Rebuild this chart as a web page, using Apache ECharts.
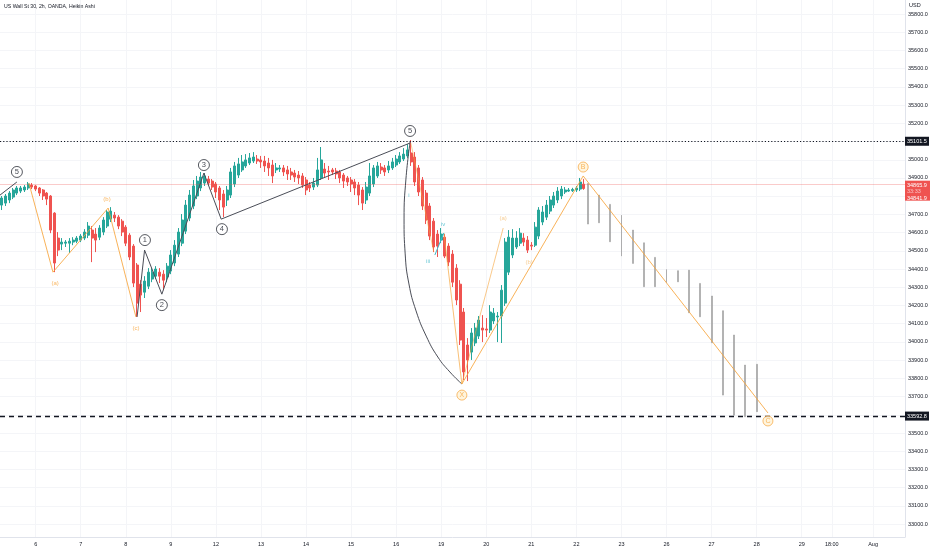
<!DOCTYPE html>
<html><head><meta charset="utf-8">
<script src="https://cdn.jsdelivr.net/npm/echarts@6/dist/echarts.min.js"></script>
<style>html,body{margin:0;padding:0;background:#fff}#c{width:932px;height:550px}</style>
</head><body><div id="c"></div><script>
// ---- Heikin Ashi candles (2h bars, index 0..155) ----
const candleOpen = [34751,34762,34779,34795,34817,34828,34834,34845,34861,34856,
34845,34834,34817,34801,34707,34570,34537,34542,34542,34548,
34553,34559,34570,34586,34614,34592,34575,34603,34636,34674,
34696,34685,34663,34630,34586,34526,34422,34317,34273,34306,
34345,34361,34383,34372,34356,34389,34433,34482,34542,34608,
34680,34746,34801,34845,34872,34894,34883,34867,34845,34812,
34779,34806,34867,34916,34944,34966,34982,34993,35004,34999,
34993,34982,34971,34944,34949,34955,34944,34933,34927,34916,
34911,34889,34861,34850,34861,34900,34949,34938,34944,34938,
34933,34916,34900,34889,34878,34861,34834,34779,34817,34867,
34911,34960,34955,34944,34955,34971,34988,35004,35021,35037,
35015,34955,34889,34817,34746,34663,34592,34559,34575,34526,
34482,34405,34317,34164,33983,33944,33994,34032,34076,34071,
34065,34115,34137,34142,34213,34383,34477,34521,34542,34570,
34559,34531,34531,34581,34658,34685,34718,34751,34779,34801,
34823,34828,34830,34834,34839,34866];
const candleClose = [34790,34801,34817,34834,34845,34845,34850,34867,34850,34839,
34817,34801,34784,34614,34433,34504,34548,34548,34553,34559,
34570,34581,34603,34636,34570,34559,34625,34669,34713,34718,
34680,34636,34603,34542,34466,34323,34213,34257,34334,34383,
34383,34400,34361,34339,34416,34477,34531,34603,34669,34751,
34806,34856,34883,34905,34911,34872,34850,34823,34779,34740,
34834,34933,34966,34977,34988,34999,35010,35015,34993,34988,
34966,34955,34911,34955,34955,34933,34922,34916,34905,34900,
34861,34834,34845,34872,34944,34999,34927,34933,34933,34922,
34900,34883,34878,34867,34845,34806,34762,34850,34911,34955,
34966,34944,34933,34966,34988,35004,35021,35031,35054,34988,
34878,34823,34746,34669,34581,34521,34526,34592,34471,34438,
34328,34230,34010,33835,33901,34049,34076,34120,34065,34065,
34164,34158,34142,34284,34548,34575,34570,34570,34597,34548,
34504,34526,34630,34724,34713,34751,34779,34801,34828,34839,
34834,34834,34837,34845,34878,34842];
const candleLow = [34724,34746,34762,34784,34806,34817,34823,34834,34839,34828,
34801,34779,34751,34597,34383,34471,34504,34521,34488,34531,
34542,34548,34559,34570,34438,34493,34559,34586,34625,34658,
34658,34619,34581,34526,34449,34301,34137,34164,34241,34290,
34328,34345,34323,34284,34328,34372,34416,34466,34526,34592,
34663,34729,34784,34828,34856,34856,34834,34790,34724,34685,
34746,34790,34850,34900,34933,34955,34971,34982,34977,34955,
34933,34911,34872,34927,34933,34911,34889,34889,34878,34867,
34845,34806,34823,34834,34850,34889,34900,34889,34916,34894,
34872,34845,34856,34823,34806,34751,34724,34757,34801,34850,
34900,34922,34911,34927,34944,34960,34977,34993,35010,34966,
34856,34801,34724,34647,34559,34493,34466,34542,34460,34416,
34301,34202,33983,33791,33785,33901,33977,34016,33999,34027,
34049,34098,33999,33994,34197,34367,34460,34510,34526,34526,
34488,34504,34521,34564,34641,34669,34702,34735,34762,34784,
34812,34823,34823,34823,34828,34835];
const candleHigh = [34801,34812,34828,34845,34856,34856,34861,34878,34872,34861,
34850,34839,34823,34806,34712,34603,34570,34559,34570,34575,
34581,34592,34619,34658,34636,34625,34641,34685,34724,34740,
34713,34696,34674,34641,34597,34537,34433,34339,34361,34405,
34405,34416,34405,34394,34433,34504,34559,34625,34702,34779,
34834,34889,34911,34933,34927,34911,34894,34878,34856,34834,
34856,34955,34988,35010,35026,35031,35037,35042,35026,35021,
35021,35010,34999,34982,34971,34971,34966,34955,34944,34938,
34927,34905,34878,34900,35010,35070,34982,34966,34955,34955,
34944,34927,34911,34905,34894,34878,34850,34878,34982,34971,
34988,34982,34971,34993,35010,35026,35042,35064,35086,35108,
35042,34971,34905,34834,34762,34680,34614,34625,34592,34542,
34504,34427,34339,34186,34021,34076,34104,34142,34147,34131,
34202,34186,34164,34312,34570,34614,34619,34608,34625,34597,
34581,34548,34658,34740,34746,34779,34801,34823,34850,34856,
34850,34845,34846,34856,34900,34894];

// ---- projected bars ----
const projIndex = [156,159,162,165,168,171,174,177,180,183,186,189,192,195,198,201];
const projHigh = [34870,34806,34755,34696,34614,34544,34464,34398,34391,34394,34321,34252,34171,34038,33873,33877];
const projLow  = [34647,34654,34550,34471,34431,34303,34303,34325,34330,34160,34138,33995,33708,33598,33589,33617];

// ---- horizontal levels ----
const levelTop = 35101.5;
const levelBottom = 33592.8;
const lastPrice = 34865.9;
const lastClose = 34841.9;
const countdown = '33:33';

// ---- axes ticks ----
const dayTickIndex = [9,21,33,45,57,69,81,93,105,117,129,141,153,165,177,189,201,213,221,232];
const dayTickLabel = ['6','7','8','9','12','13','14','15','16','19','20','21','22','23','26','27','28','29','18:00','Aug'];
const priceTicks = [33000,33100,33200,33300,33400,33500,33600,33700,33800,33900,34000,34100,34200,34300,34400,
34500,34600,34700,34800,34900,35000,35100,35200,35300,35400,35500,35600,35700,35800];

// ---- wave annotations ----
const wave5StartIdx = [-0.5, 4];
const wave5StartPrice = [34806, 34878];
const impulseIdx = [36, 38, 42.6, 53.8, 58.4, 108.7];
const impulsePrice = [34137, 34504, 34262, 34927, 34674, 35092];
const abcIdx = [7.2, 13.6, 28.3, 35.7];
const abcPrice = [34872, 34383, 34735, 34137];
const arcIdx = [108.7, 107.6, 107.1, 107.4, 108.4, 110.3, 113.0, 116.1, 119.3, 122.5];
const arcPrice = [35097, 34894, 34675, 34483, 34318, 34170, 34032, 33917, 33835, 33769];
const fiveToIIIIdx = [108.9, 115.0]; const fiveToIIIPrice = [35092, 34495];
const ivToXIdx = [117.7, 122.5]; const ivToXPrice = [34598, 33769];
const xToAIdx = [122.5, 133.5]; const xToAPrice = [33769, 34625];
const xbcIdx = [122.5, 154.8, 204.0]; const xbcPrice = [33769, 34911, 33610];
const cyanIdx = [115.3, 117.7]; const cyanPrice = [34477, 34598];

const circleText = ['5','1','2','3','4','5'];
const circleIdx = [4.0, 38.1, 42.6, 53.8, 58.6, 108.7];
const circlePrice = [34933, 34559, 34202, 34971, 34619, 35158];
const ocircleText = ['X','B','C'];
const ocircleIdx = [122.5, 154.8, 204.0];
const ocirclePrice = [33708, 34960, 33566];
const abcText = ['(a)','(b)','(c)'];
const abcLabelIdx = [14.2, 28, 35.7];
const abcLabelPrice = [34323, 34784, 34076];
const ab2Text = ['(a)','(b)'];
const ab2Idx = [133.5, 140.4];
const ab2Price = [34680, 34439];
const cyanText = ['i','iii','iv'];
const cyanLabelIdx = [108.4, 113.5, 117.5];
const cyanLabelPrice = [34806, 34444, 34647];

const UP = '#26a69a', DN = '#ef5350', ORANGE = '#f7a53c', INK = '#131722';
const FONT = 'Liberation Sans';

const candleData = candleOpen.map((o, i) => [i, o, candleClose[i], candleLow[i], candleHigh[i]]);
const projData = projIndex.map((x, k) => [x, projHigh[k], projLow[k], projLow[k], projHigh[k]]);
const pts = (xs, ys) => xs.map((x, k) => [x, ys[k]]);

function lineSeries(xs, ys, color, width, smooth, opacity) {
  return { type: 'line', data: pts(xs, ys), symbol: 'none', silent: true, smooth: smooth || false,
    lineStyle: { color: color, width: width, opacity: opacity == null ? 1 : opacity }, z: 5, animation: false };
}
function textSeries(texts, xs, ys, color, size) {
  return { type: 'scatter', symbolSize: 1, itemStyle: { color: 'rgba(0,0,0,0)' }, silent: true, z: 7,
    data: texts.map((t, k) => ({ name: t, value: [xs[k], ys[k]] })),
    label: { show: true, position: 'inside', formatter: '{b}', color: color, fontSize: size, fontFamily: FONT } };
}
function circleSeries(texts, xs, ys, stroke, fill, textColor, size, fs) {
  return { type: 'scatter', symbol: 'circle', symbolSize: size, silent: true, z: 8,
    itemStyle: { color: fill, borderColor: stroke, borderWidth: 0.9 },
    data: texts.map((t, k) => ({ name: t, value: [xs[k], ys[k]] })),
    label: { show: true, position: 'inside', formatter: '{b}', color: textColor, fontSize: fs, fontFamily: FONT } };
}

const chart = echarts.init(document.getElementById('c'), null, { renderer: 'canvas' });
chart.setOption({
  animation: false,
  backgroundColor: '#ffffff',
  grid: { left: 0, right: 27, top: 0, bottom: 13, containLabel: false },
  xAxis: {
    type: 'value', min: -0.5, max: 240.5,
    axisLine: { show: true, onZero: false, lineStyle: { color: '#e0e3eb' } },
    axisTick: { show: false, customValues: dayTickIndex },
    splitLine: { show: true, lineStyle: { color: '#f4f5f8', width: 1 } },
    axisLabel: { customValues: dayTickIndex, fontSize: 5.5, color: INK, fontFamily: FONT, margin: 4,
      formatter: v => { const k = dayTickIndex.indexOf(v); return k >= 0 ? dayTickLabel[k] : ''; } }
  },
  yAxis: {
    type: 'value', position: 'right', min: 32929, max: 35877, scale: true,
    axisLine: { show: true, onZero: false, lineStyle: { color: '#e0e3eb' } },
    axisTick: { show: false, customValues: priceTicks },
    splitLine: { show: true, lineStyle: { color: '#f4f5f8', width: 1 } },
    axisLabel: { customValues: priceTicks, fontSize: 5.5, color: INK, fontFamily: FONT, margin: 3,
      formatter: v => v.toFixed(1) }
  },
  series: [
    { type: 'candlestick', name: 'US Wall St 30', data: candleData, encode: { x: 0, y: [1,2,3,4] },
      barWidth: 2.5, z: 3,
      itemStyle: { color: UP, color0: DN, borderColor: UP, borderColor0: DN, borderWidth: 1 },
      markLine: { silent: true, symbol: ['none','none'], label: { show: false }, animation: false,
        data: [
          { yAxis: levelTop, lineStyle: { color: INK, width: 1, type: [1.2, 2] } },
          { yAxis: levelBottom, lineStyle: { color: INK, width: 1.3, type: [5, 4] } },
          { yAxis: lastPrice, lineStyle: { color: 'rgba(239,83,80,0.3)', width: 1, type: 'solid' } }
        ] } },
    { type: 'candlestick', name: 'projection', data: projData, encode: { x: 0, y: [1,2,3,4] },
      barWidth: 1.4, z: 2,
      itemStyle: { color: '#a0a0a0', color0: '#a0a0a0', borderColor: '#a0a0a0', borderColor0: '#a0a0a0', borderWidth: 0.6 } },
    lineSeries(wave5StartIdx, wave5StartPrice, '#4a4d57', 1),
    lineSeries(impulseIdx, impulsePrice, '#4a4d57', 1),
    lineSeries(abcIdx, abcPrice, ORANGE, 1, false, 0.85),
    lineSeries(arcIdx, arcPrice, '#4a4d57', 1, 0.5),
    lineSeries(fiveToIIIIdx, fiveToIIIPrice, ORANGE, 1, false, 0.55),
    lineSeries(ivToXIdx, ivToXPrice, ORANGE, 1, false, 0.7),
    lineSeries(xToAIdx, xToAPrice, ORANGE, 1, false, 0.6),
    lineSeries(xbcIdx, xbcPrice, ORANGE, 1, false, 0.85),
    lineSeries(cyanIdx, cyanPrice, '#3fb8c9', 1),
    circleSeries(circleText, circleIdx, circlePrice, INK, '#ffffff', INK, 11, 7.5),
    circleSeries(ocircleText, ocircleIdx, ocirclePrice, ORANGE, '#fff3d6', ORANGE, 10, 7),
    textSeries(abcText, abcLabelIdx, abcLabelPrice, ORANGE, 6),
    textSeries(ab2Text, ab2Idx, ab2Price, '#f5c27a', 6),
    textSeries(cyanText, cyanLabelIdx, cyanLabelPrice, '#3fb8c9', 6)
  ]
});

const yOf = v => chart.convertToPixel({ yAxisIndex: 0 }, v);
const axisX = chart.convertToPixel({ xAxisIndex: 0 }, 240.5);
const yTop = yOf(levelTop), yBot = yOf(levelBottom), yLast = yOf(lastPrice);
chart.setOption({
  graphic: [
    { type: 'text', left: 4, top: 4, style: { text: 'US Wall St 30, 2h, OANDA, Heikin Ashi', fill: INK, fontSize: 5.2, fontFamily: FONT } },
    { type: 'text', x: axisX + 4, y: 2, style: { text: 'USD', fill: INK, fontSize: 5.5, fontFamily: FONT } },
    { type: 'rect', x: axisX, y: yTop - 4.5, shape: { width: 24, height: 9 }, style: { fill: INK }, z: 20 },
    { type: 'text', x: axisX + 2, y: yTop - 3, style: { text: levelTop.toFixed(1), fill: '#fff', fontSize: 5.5, fontFamily: FONT }, z: 21 },
    { type: 'rect', x: axisX, y: yBot - 4.5, shape: { width: 24, height: 9 }, style: { fill: INK }, z: 20 },
    { type: 'text', x: axisX + 2, y: yBot - 3, style: { text: levelBottom.toFixed(1), fill: '#fff', fontSize: 5.5, fontFamily: FONT }, z: 21 },
    { type: 'rect', x: axisX, y: yLast - 3.5, shape: { width: 25, height: 20 }, style: { fill: '#ef5350' }, z: 20 },
    { type: 'text', x: axisX + 2, y: yLast - 2, style: { text: lastPrice.toFixed(1), fill: '#fff', fontSize: 5.5, fontFamily: FONT }, z: 21 },
    { type: 'text', x: axisX + 2, y: yLast + 4.5, style: { text: countdown, fill: '#f9c3c2', fontSize: 5.5, fontFamily: FONT }, z: 21 },
    { type: 'text', x: axisX + 2, y: yLast + 11, style: { text: lastClose.toFixed(1), fill: '#fff', fontSize: 5.5, fontFamily: FONT }, z: 21 }
  ]
});
</script></body></html>
